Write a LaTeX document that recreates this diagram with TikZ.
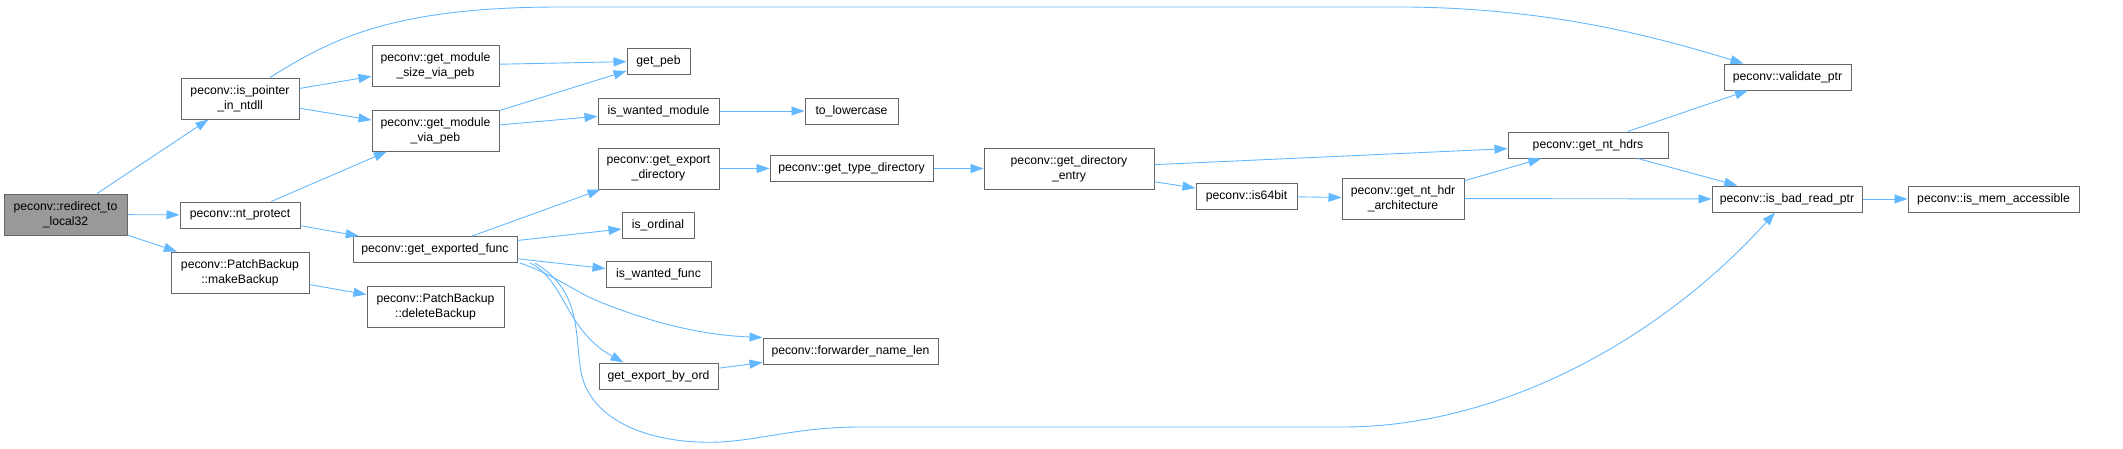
\documentclass[tikz,border=0pt]{standalone}
\usepackage{fontspec}
\setmainfont{Liberation Sans}
\usepackage{xcolor}
\usetikzlibrary{arrows.meta, positioning}
\definecolor{edgeblue}{HTML}{63B8FF}
\definecolor{boxgray}{HTML}{666666}
\definecolor{rootgray}{HTML}{999999}

\begin{document}
\begin{tikzpicture}[x=1pt, y=-1pt,
    func/.style={rectangle, draw=boxgray, fill=white, line width=1pt, inner sep=0pt, align=center, font=\fontsize{12.2}{15}\selectfont, minimum height=26pt},
    func2/.style={func, minimum height=41pt},
    root/.style={func2, fill=rootgray},
    arrow/.style={-{Triangle[length=13pt, width=9pt]}, draw=edgeblue, line width=0.9pt}
]
\useasboundingbox (0,0) rectangle (2123,448);

% caller
\node[root, minimum width=123pt] (redirect) at (65.5,214.5) {peconv::redirect\_to\\\_local32};

% first level
\node[func2, minimum width=118pt] (isptr) at (240,98.5) {peconv::is\_pointer\\\_in\_ntdll};
\node[func, minimum width=120pt] (ntprot) at (240,215) {peconv::nt\_protect};
\node[func2, minimum width=138pt] (mkbak) at (240,272.5) {peconv::PatchBackup\\::makeBackup};

% second level
\node[func2, minimum width=127pt] (modsize) at (435.5,65.5) {peconv::get\_module\\\_size\_via\_peb};
\node[func2, minimum width=127pt] (modpeb) at (435.5,130.5) {peconv::get\_module\\\_via\_peb};
\node[func, minimum width=164pt] (expfunc) at (435,249.5) {peconv::get\_exported\_func};
\node[func2, minimum width=137pt] (delbak) at (435.5,306.5) {peconv::PatchBackup\\::deleteBackup};

% third level
\node[func, minimum width=63pt] (getpeb) at (658.5,61) {get\_peb};
\node[func, minimum width=121pt] (wmod) at (658.5,111) {is\_wanted\_module};
\node[func2, minimum width=121pt] (expdir) at (658.5,168.5) {peconv::get\_export\\\_directory};
\node[func, minimum width=72pt] (isord) at (658,225) {is\_ordinal};
\node[func, minimum width=105pt] (wfunc) at (658.5,274.5) {is\_wanted\_func};
\node[func, minimum width=119pt] (byord) at (658.5,376) {get\_export\_by\_ord};

% further levels
\node[func, minimum width=93pt, right=85pt of wmod] (lower) {to\_lowercase};
\node[func, minimum width=163pt, right=50pt of expdir] (typedir) {peconv::get\_type\_directory};
\node[func, minimum width=175pt] (fwdlen) at (850.5,351) {peconv::forwarder\_name\_len};
\node[func2, minimum width=170pt, right=50pt of typedir] (direntry) {peconv::get\_directory\\\_entry};
\node[func, minimum width=101pt] (is64) at (1246.5,196) {peconv::is64bit};
\node[func2, minimum width=122pt] (archhdr) at (1403,198.5) {peconv::get\_nt\_hdr\\\_architecture};
\node[func, minimum width=160pt] (nthdrs) at (1588,145) {peconv::get\_nt\_hdrs};
\node[func, minimum width=127pt] (valptr) at (1787.5,77) {peconv::validate\_ptr};
\node[func, minimum width=150pt] (badptr) at (1787,199) {peconv::is\_bad\_read\_ptr};
\node[func, minimum width=171pt, right=45pt of badptr] (memacc) {peconv::is\_mem\_accessible};

% calls
\draw[arrow] (redirect) -- (isptr);
\draw[arrow] (redirect) -- (ntprot);
\draw[arrow] (redirect) -- (mkbak);
\draw[arrow] ([xshift=30pt]isptr.north) .. controls (330,40) and (390,7) .. (560,7) -- (1410,7) .. controls (1550,9) and (1650,35) .. ([xshift=-44pt]valptr.north);
\draw[arrow] (isptr) -- (modsize);
\draw[arrow] (isptr) -- (modpeb);
\draw[arrow] (modsize) -- (getpeb);
\draw[arrow] (modpeb) -- (getpeb);
\draw[arrow] (modpeb) -- (wmod);
\draw[arrow] (wmod) -- (lower);
\draw[arrow] (ntprot) -- (modpeb);
\draw[arrow] (ntprot) -- (expfunc);
\draw[arrow] (mkbak) -- (delbak);
\draw[arrow] (expfunc) -- (expdir);
\draw[arrow] (expfunc) -- (isord);
\draw[arrow] (expfunc) -- (wfunc);
\draw[arrow] ([xshift=85pt]expfunc.south) .. controls (555,275) and (575,292) .. (600,302) .. controls (650,322) and (700,335) .. (fwdlen.north west);
\draw[arrow] ([xshift=95pt]expfunc.south) .. controls (565,280) and (565,330) .. ([xshift=-35pt]byord.north);
\draw[arrow] ([xshift=100pt]expfunc.south) .. controls (580,290) and (575,330) .. (580,365) .. controls (585,420) and (650,445) .. (720,442) .. controls (760,440) and (800,427) .. (860,427) -- (1343,427) .. controls (1500,427) and (1660,340) .. ([xshift=-12pt]badptr.south);
\draw[arrow] (byord) -- (fwdlen);
\draw[arrow] (expdir) -- (typedir);
\draw[arrow] (typedir) -- (direntry);
\draw[arrow] (direntry) -- (nthdrs);
\draw[arrow] (direntry) -- (is64);
\draw[arrow] (is64) -- (archhdr);
\draw[arrow] (archhdr) -- (nthdrs);
\draw[arrow] (archhdr) -- (badptr);
\draw[arrow] (nthdrs) -- (valptr);
\draw[arrow] (nthdrs) -- (badptr);
\draw[arrow] (badptr) -- (memacc);
\end{tikzpicture}
\end{document}
